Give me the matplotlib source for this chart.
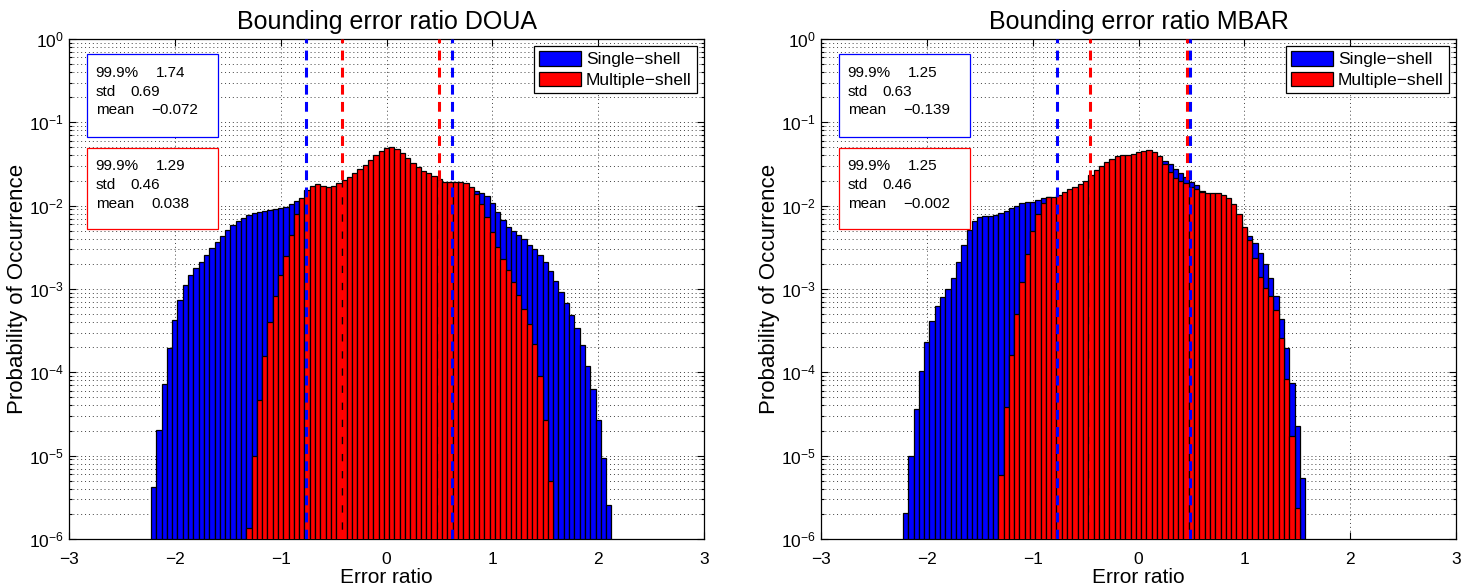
import numpy as np
import matplotlib.pyplot as plt
from matplotlib.patches import Rectangle, Patch

plt.rcParams['font.family'] = ['Liberation Sans', 'DejaVu Sans']

# histogram bins (width 0.05), first bin centre of each series
bin_width = 0.05

# ---- DOUA ----
doua_single_start = -2.2
doua_single = [
    4.25e-6, 2.03e-5, 7.18e-5, 1.94e-4, 4.25e-4, 7.38e-4, 1.11e-3, 1.46e-3, 1.77e-3, 2.11e-3,
    2.56e-3, 3.08e-3, 3.70e-3, 4.33e-3, 5.11e-3, 5.86e-3, 6.55e-3, 7.11e-3, 7.66e-3, 8.09e-3,
    8.39e-3, 8.71e-3, 8.87e-3, 9.04e-3, 9.29e-3, 9.73e-3, 1.04e-2, 1.14e-2, 1.17e-2, 1.20e-2,
    1.24e-2, 1.27e-2, 1.31e-2, 1.34e-2, 1.37e-2, 1.39e-2, 1.42e-2, 1.45e-2, 1.47e-2, 1.50e-2,
    1.53e-2, 1.54e-2, 1.56e-2, 1.57e-2, 1.58e-2, 1.60e-2, 1.60e-2, 1.60e-2, 1.60e-2, 1.60e-2,
    1.60e-2, 1.60e-2, 1.60e-2, 1.60e-2, 1.60e-2, 1.58e-2, 1.57e-2, 1.56e-2, 1.54e-2, 1.54e-2,
    1.53e-2, 1.51e-2, 1.43e-2, 1.31e-2, 1.09e-2, 8.47e-3, 6.73e-3, 5.60e-3, 4.97e-3, 4.45e-3,
    3.94e-3, 3.40e-3, 2.99e-3, 2.56e-3, 2.13e-3, 1.64e-3, 1.25e-3, 9.12e-4, 6.73e-4, 4.88e-4,
    3.37e-4, 2.13e-4, 1.20e-4, 6.25e-5, 2.68e-5, 9.46e-6, 2.56e-6,
]
doua_multi_start = -1.3
doua_multi = [
    1.37e-6, 9.90e-6, 4.66e-5, 1.58e-4, 4.06e-4, 8.32e-4, 1.46e-3, 2.49e-3, 4.49e-3, 7.94e-3,
    1.22e-2, 1.54e-2, 1.74e-2, 1.80e-2, 1.74e-2, 1.67e-2, 1.74e-2, 1.85e-2, 2.03e-2, 2.23e-2,
    2.49e-2, 2.75e-2, 3.08e-2, 3.53e-2, 4.06e-2, 4.57e-2, 4.92e-2, 5.01e-2, 4.74e-2, 4.33e-2,
    3.70e-2, 3.22e-2, 2.88e-2, 2.63e-2, 2.44e-2, 2.27e-2, 2.07e-2, 1.94e-2, 1.91e-2, 1.91e-2,
    1.91e-2, 1.85e-2, 1.66e-2, 1.37e-2, 1.04e-2, 7.24e-3, 4.79e-3, 3.22e-3, 2.29e-3, 1.69e-3,
    1.22e-3, 8.47e-4, 5.70e-4, 3.80e-4, 2.17e-4, 9.12e-5, 2.68e-5, 5.01e-6,
]

# ---- MBAR ----
mbar_single_start = -2.2
mbar_single = [
    2.07e-6, 9.90e-6, 3.60e-5, 1.04e-4, 2.33e-4, 4.17e-4, 6.25e-4, 8.09e-4, 1.00e-3, 1.34e-3,
    2.09e-3, 3.37e-3, 5.11e-3, 6.61e-3, 7.38e-3, 7.59e-3, 7.52e-3, 7.73e-3, 8.24e-3, 8.71e-3,
    9.29e-3, 9.91e-3, 1.07e-2, 1.10e-2, 1.12e-2, 1.17e-2, 1.22e-2, 1.26e-2, 1.22e-2, 1.26e-2,
    1.31e-2, 1.37e-2, 1.45e-2, 1.54e-2, 1.66e-2, 1.80e-2, 2.00e-2, 2.19e-2, 2.38e-2, 2.56e-2,
    2.73e-2, 2.88e-2, 3.05e-2, 3.16e-2, 3.28e-2, 3.37e-2, 3.44e-2, 3.47e-2, 3.47e-2, 3.47e-2,
    3.13e-2, 2.73e-2, 2.44e-2, 2.19e-2, 1.94e-2, 1.77e-2, 1.50e-2, 1.34e-2, 1.26e-2, 1.17e-2,
    1.07e-2, 9.29e-3, 7.73e-3, 6.43e-3, 5.20e-3, 4.33e-3, 3.53e-3, 2.68e-3, 2.00e-3, 1.37e-3,
    8.24e-4, 4.33e-4, 1.94e-4, 7.38e-5, 2.27e-5, 5.45e-6,
]
mbar_multi_start = -1.3
mbar_multi = [
    5.86e-6, 3.87e-5, 1.61e-4, 5.01e-4, 1.22e-3, 2.61e-3, 5.01e-3, 7.94e-3, 1.07e-2, 1.26e-2,
    1.28e-2, 1.34e-2, 1.45e-2, 1.57e-2, 1.69e-2, 1.82e-2, 2.00e-2, 2.33e-2, 2.68e-2, 3.02e-2,
    3.31e-2, 3.63e-2, 3.94e-2, 4.06e-2, 4.02e-2, 4.17e-2, 4.37e-2, 4.57e-2, 4.66e-2, 4.45e-2,
    3.94e-2, 3.13e-2, 2.51e-2, 2.13e-2, 2.00e-2, 1.85e-2, 1.69e-2, 1.57e-2, 1.45e-2, 1.43e-2,
    1.43e-2, 1.41e-2, 1.34e-2, 1.22e-2, 1.04e-2, 7.94e-3, 5.60e-3, 3.87e-3, 2.33e-3, 1.41e-3,
    1.02e-3, 8.24e-4, 5.60e-4, 2.61e-4, 8.24e-5, 1.74e-5, 2.33e-6,
]

# summary statistics shown in the boxes: 99.9%, std, mean
stat_names = ['99.9%', 'std', 'mean']
doua_single_stats = [1.74, 0.69, -0.072]
doua_multi_stats = [1.29, 0.46, 0.038]
mbar_single_stats = [1.25, 0.63, -0.139]
mbar_multi_stats = [1.25, 0.46, -0.002]

titles = ['Bounding error ratio DOUA', 'Bounding error ratio MBAR']
legend_labels = ['Single\u2212shell', 'Multiple\u2212shell']


def centres(start, vals):
    return np.round(start + bin_width * np.arange(len(vals)), 3)


def fmt(v):
    return '{:g}'.format(v).replace('-', '\u2212')


def draw_panel(ax, title, single_start, single, multi_start, multi, s_stats, m_stats):
    ax.set_yscale('log')
    ax.bar(centres(single_start, single), single, width=bin_width, bottom=1e-9,
           color='blue', edgecolor='black', linewidth=0.9, zorder=2)
    ax.bar(centres(multi_start, multi), multi, width=bin_width, bottom=1e-9,
           color='red', edgecolor='black', linewidth=0.9, zorder=3)

    # dashed lines at mean +/- std
    for stats, col in [(s_stats, 'blue'), (m_stats, 'red')]:
        for xv in (stats[2] - stats[1], stats[2] + stats[1]):
            ax.axvline(xv, color=col, linestyle='--', linewidth=2.2,
                       dashes=(3.2, 2.4), zorder=4)

    ax.set_xlim(-3, 3)
    ax.set_ylim(1e-6, 1)
    ax.set_xticks([-3, -2, -1, 0, 1, 2, 3])
    ax.set_yticks([1e-6, 1e-5, 1e-4, 1e-3, 1e-2, 1e-1, 1])
    ax.tick_params(which='both', direction='in', top=True, right=True,
                   labelsize=12.5, width=0.8)
    ax.tick_params(which='major', length=5)
    ax.tick_params(which='minor', length=2.5)
    ax.tick_params(axis='x', which='major', pad=9)
    ax.tick_params(axis='x', which='minor', bottom=False, top=False)
    ax.set_axisbelow(True)
    ax.grid(True, which='major', linestyle=(0, (1, 3)), color='0.25', linewidth=0.7)
    ax.grid(True, which='minor', axis='y', linestyle=(0, (1, 3)), color='0.25', linewidth=0.7)
    for sp in ax.spines.values():
        sp.set_linewidth(0.9)

    ax.set_title(title, fontsize=18, pad=7)
    ax.set_xlabel('Error ratio', fontsize=15, labelpad=1)
    ax.set_ylabel('Probability of Occurrence', fontsize=16, labelpad=1)

    # statistics boxes
    value_x = [0.137, 0.097, 0.13]
    for stats, col, top, bot in [(s_stats, 'blue', 0.970, 0.805),
                                 (m_stats, 'red', 0.783, 0.620)]:
        ax.add_patch(Rectangle((0.029, bot), 0.206, top - bot, transform=ax.transAxes,
                               facecolor='white', edgecolor=col, linewidth=0.9, zorder=6))
        for i, (name, val) in enumerate(zip(stat_names, stats)):
            y = top - 0.038 - i * 0.037
            ax.text(0.042, y, name, transform=ax.transAxes, fontsize=11,
                    va='center', ha='left', zorder=7)
            ax.text(value_x[i], y, fmt(val), transform=ax.transAxes, fontsize=11,
                    va='center', ha='left', zorder=7)

    handles = [Patch(facecolor='blue', edgecolor='black', linewidth=0.9),
               Patch(facecolor='red', edgecolor='black', linewidth=0.9)]
    leg = ax.legend(handles, legend_labels, loc='upper right', fontsize=12.5,
                    fancybox=False, framealpha=1, edgecolor='black',
                    handlelength=2.4, handleheight=0.9, handletextpad=0.3,
                    borderpad=0.3, labelspacing=0.25, borderaxespad=0.4)
    leg.get_frame().set_linewidth(0.9)
    leg.set_zorder(8)


W, H = 1477, 587
fig = plt.figure(figsize=(W / 100, H / 100), dpi=100)
ax1 = fig.add_axes([69 / W, 48 / H, 635 / W, 500 / H])
ax2 = fig.add_axes([821 / W, 48 / H, 635 / W, 500 / H])

draw_panel(ax1, titles[0], doua_single_start, doua_single, doua_multi_start, doua_multi,
           doua_single_stats, doua_multi_stats)
draw_panel(ax2, titles[1], mbar_single_start, mbar_single, mbar_multi_start, mbar_multi,
           mbar_single_stats, mbar_multi_stats)

fig.savefig('out.png', dpi=100)
